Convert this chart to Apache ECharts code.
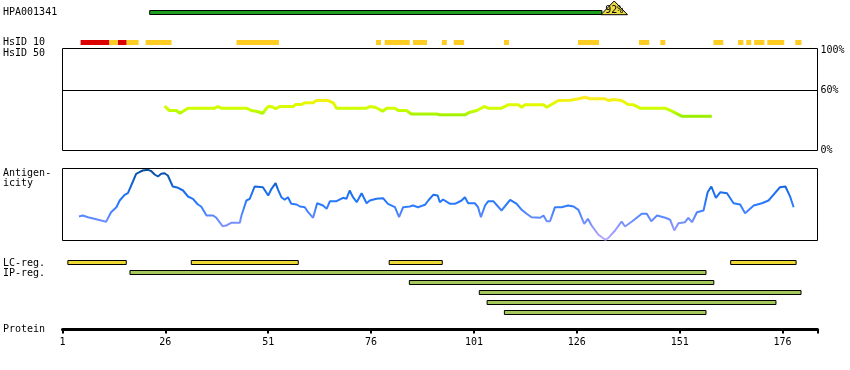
<!DOCTYPE html>
<html>
<head>
<meta charset="utf-8">
<script src="https://cdn.jsdelivr.net/npm/echarts@6/dist/echarts.min.js"></script>
<style>html,body{margin:0;padding:0;background:#fff}#c{width:850px;height:370px}</style>
</head>
<body>
<div id="c"></div>
<script>
// ---------- data (residue positions) ----------
const proteinEnd = 184.5;
const tickStep = 25;
const antibodyName = 'HPA001341';
const hpaRange = [22.2, 132.1];
const hpaScore = '92%';
const hsRed = [[5.4, 12.4], [14.4, 16.6]];
const hsYellow = [[12.4, 14.4], [16.6, 19.5], [21.2, 27.5], [43.3, 53.6], [77.2, 78.4], [79.3, 85.4],
  [86.2, 89.6], [93.2, 94.4], [96.1, 98.6], [108.3, 109.5], [126.3, 131.4], [141.1, 143.6],
  [146.3, 147.5], [159.2, 161.6], [165.2, 166.5], [167.2, 168.4], [169.1, 171.6], [172.3, 176.4], [179.1, 180.6]];
const identityPos = [25.8, 27.0, 28.7, 29.5, 30.3, 31.5, 38.0, 38.8, 39.6, 45.7, 46.9, 48.1, 48.5, 49.7, 50.6, 51.2,
  52.2, 52.8, 53.8, 57.0, 57.7, 59.1, 59.9, 61.9, 62.7, 65.5, 66.8, 67.6, 74.9, 75.7, 76.9, 78.1, 78.8, 79.8, 81.8,
  82.6, 84.6, 85.8, 91.9, 92.7, 98.8, 100.0, 101.7, 103.5, 104.5, 107.7, 109.3, 111.8, 112.6, 113.4, 117.9, 118.7,
  121.5, 124.4, 126.4, 128.0, 129.2, 132.9, 133.7, 134.9, 136.9, 138.5, 139.8, 141.4, 147.5, 149.1, 151.5, 158.8];
const identityPct = [44.3, 40, 40, 37.3, 39.3, 42.3, 42.3, 44, 42.3, 42.3, 40, 39.3, 37.3, 37.3, 42.3, 44.3,
  43.3, 41.7, 44, 44, 46, 46, 47.7, 47.7, 50, 50, 47.7, 42.3, 42.3, 44, 43.3, 41, 39.3, 42.3, 42.3,
  40, 40, 36.5, 36.5, 35.7, 35.7, 38.3, 40, 44, 42.3, 42.3, 45.7, 45.7, 43.3, 45.7, 45.7, 43.3,
  50, 50.3, 51.7, 53.3, 51.7, 51.7, 50, 51, 50, 46, 45.7, 42.3, 42.3, 39.3, 34.3, 34.3];
const antigenPos = [5.0, 5.9, 7.2, 9.2, 11.6, 12.8, 14.1, 14.9, 16.1, 16.9, 17.7, 18.9, 19.7, 20.5, 21.8, 22.6, 23.4,
  24.2, 25.0, 25.8, 26.6, 27.8, 29.1, 30.3, 31.5, 32.7, 33.9, 34.7, 36.0, 37.6, 38.4, 39.9, 40.8, 42.0, 44.1, 44.5,
  45.7, 46.5, 47.7, 49.7, 51.0, 51.8, 52.8, 53.4, 54.2, 55.0, 55.8, 56.6, 57.9, 58.7, 59.9, 60.7, 61.9, 62.9, 64.3,
  65.2, 66.0, 67.6, 69.2, 70.0, 70.8, 71.6, 72.5, 73.7, 74.9, 75.7, 77.3, 78.9, 80.1, 81.8, 82.8, 83.8, 85.4, 86.2,
  87.4, 89.1, 89.9, 91.1, 92.2, 92.7, 93.5, 95.2, 96.4, 98.0, 98.8, 99.6, 101.2, 102.0, 102.7, 103.7, 104.5, 105.7,
  107.7, 109.8, 111.4, 112.6, 113.8, 115.0, 117.1, 117.9, 118.7, 119.5, 120.7, 122.3, 123.9, 125.2, 126.4, 127.8,
  128.7, 129.6, 131.2, 132.9, 133.7, 135.3, 136.9, 137.7, 139.4, 141.8, 143.0, 144.1, 145.5, 147.5, 148.7, 149.7,
  150.7, 152.3, 153.1, 154.0, 155.2, 156.8, 157.8, 158.7, 159.8, 160.9, 162.5, 164.1, 165.7, 166.9, 169.0, 171.0,
  172.6, 175.4, 176.7, 177.9, 178.7];
const antigenVal = [24, 25, 23.3, 21.3, 18.7, 28.3, 33.3, 40, 45.7, 47.3, 55, 66.7, 68.3, 70, 70.7, 69.3, 66,
  64, 66.7, 67.3, 65, 54, 52.7, 50, 44, 41.7, 36, 34, 25, 25, 22.7, 14.3, 15, 17.7, 17.7, 25,
  40, 41.7, 54, 53.3, 45, 51.7, 57.3, 50.7, 43.3, 40.7, 43.3, 36.7, 36, 34, 33.3, 28.3, 22.7, 37.3, 35,
  31.7, 39.3, 39.3, 42.7, 41.7, 50, 43.3, 38.3, 47.3, 37.3, 40, 41.7, 42.3, 36.7, 33.3, 23.3, 33.3, 34, 35,
  33.3, 35.7, 40, 45.7, 45, 38.3, 41, 36.7, 36.7, 40, 43.3, 37.3, 37.3, 33.3, 23.3, 35, 39.3, 39.3,
  30, 40.7, 36.7, 30.7, 26.7, 23.3, 22.7, 25, 19.3, 19.3, 33.3, 33.3, 35, 34, 30.7, 16.7,
  21.7, 15, 6, 0.7, 2.7, 10, 19, 14, 19, 26.7, 26.7, 19.3, 25, 22.7, 20.7, 10,
  17.3, 18.3, 22.7, 18.3, 28.3, 30, 48.3, 54, 42.7, 48.3, 47.3, 37.3, 36, 27.3, 35, 37.3,
  40, 53.3, 54, 43.3, 33.3];
const lcRegions = [[2.3, 16.5], [32.3, 58.3], [80.4, 93.3], [163.4, 179.3]];
const ipRegions = [[17.4, 157.4], [85.3, 159.3], [102.3, 180.5], [104.2, 174.4], [108.4, 157.4]];
const regionRows = ['LC', 'IP1', 'IP2', 'IP3', 'IP4', 'IP5'];
const identityTicks = [0, 60, 100];
const identityRefLine = 60;

// ---------- build ----------
const sh = r => r - 1;               // axis value = residue - 1 so ticks land on 1, 26, 51 ...
const xMax = sh(proteinEnd);
const FONT = '"DejaVu Sans Mono", "Liberation Mono", monospace';
const L = 62.5, R = 32.5;

const grids = [
  {left: L, right: R, top: 10, height: 5},
  {left: L, right: R, top: 40, height: 5},
  {left: L, right: R, top: 48.5, height: 102, show: true, borderColor: '#000', borderWidth: 1},
  {left: L, right: R, top: 168.5, height: 72, show: true, borderColor: '#000', borderWidth: 1},
  {left: L, right: R, top: 260, height: 60},
  {left: L, right: R, top: 300, bottom: 40.5}
];
const xAxes = grids.map((g, i) => ({
  type: 'value', gridIndex: i, min: 0, max: xMax, show: i === 5,
  interval: tickStep,
  splitLine: {show: false},
  axisLine: {show: true, lineStyle: {color: '#000', width: 3}},
  axisTick: {show: true, length: 4, lineStyle: {color: '#000', width: 2}},
  axisLabel: {
    show: true, margin: 8, color: '#000', fontFamily: FONT, fontSize: 10,
    formatter: v => (Math.abs(v % tickStep) < 1e-6 ? String(Math.round(v) + 1) : '')
  }
}));
const yAxes = [
  {type: 'value', gridIndex: 0, min: 0, max: 1, show: false},
  {type: 'value', gridIndex: 1, min: 0, max: 1, show: false},
  {type: 'value', gridIndex: 2, min: 0, max: 102, interval: 20, position: 'right',
    axisLine: {show: false}, axisTick: {show: false}, splitLine: {show: false},
    axisLabel: {margin: 3, color: '#000', fontFamily: FONT, fontSize: 10,
      formatter: v => (identityTicks.indexOf(v) >= 0 ? v + '%' : '')}},
  {type: 'value', gridIndex: 3, min: 0, max: 72, show: false},
  {type: 'category', gridIndex: 4, data: regionRows, inverse: true, show: false},
  {type: 'value', gridIndex: 5, min: 0, max: 1, show: false}
];

function spanRenderer(fillFn, stroke) {
  return function (params, api) {
    const a = api.coord([api.value(0), 1]);
    const b = api.coord([api.value(1), 0]);
    const r = {x: a[0], y: a[1], width: b[0] - a[0], height: b[1] - a[1]};
    if (stroke) { r.y += 0.5; r.height -= 1; }
    return {type: 'rect', shape: r,
      style: {fill: fillFn(api), stroke: stroke ? '#000' : null, lineWidth: stroke ? 1 : 0}};
  };
}

const hsData = hsRed.map(s => [sh(s[0]), sh(s[1]), 0]).concat(hsYellow.map(s => [sh(s[0]), sh(s[1]), 1]));
const regionData = lcRegions.map(s => [sh(s[0]), sh(s[1]), 0, 0])
  .concat(ipRegions.map((s, i) => [sh(s[0]), sh(s[1]), i + 1, 1]));

const series = [
  { // 0 HPA antigen bar + score triangle
    type: 'custom', xAxisIndex: 0, yAxisIndex: 0, clip: false,
    data: [[sh(hpaRange[0]), sh(hpaRange[1])]],
    renderItem: function (params, api) {
      const a = api.coord([api.value(0), 1]);
      const b = api.coord([api.value(1), 0]);
      const ex = b[0], by = b[1] - 0.3;
      return {type: 'group', children: [
        {type: 'rect', shape: {x: a[0], y: a[1] + 0.5, width: b[0] - a[0], height: b[1] - a[1] - 1},
          style: {fill: '#1e9e1e', stroke: '#000', lineWidth: 1}},
        {type: 'polygon', shape: {points: [[ex - 1, by], [ex + 12.3, by - 13.7], [ex + 25.6, by]]},
          style: {fill: '#eedd44', stroke: '#000', lineWidth: 1}},
        {type: 'text', x: ex + 12.3, y: by - 4.3,
          style: {text: hpaScore, font: '10px ' + FONT, fill: '#000', align: 'center', verticalAlign: 'middle'}}
      ]};
    }
  },
  { // 1 HsID 10
    type: 'custom', xAxisIndex: 1, yAxisIndex: 1,
    data: hsData,
    renderItem: spanRenderer(api => (api.value(2) === 0 ? '#dd0000' : '#ffcc22'), false)
  },
  { // 2 identity line
    type: 'line', xAxisIndex: 2, yAxisIndex: 2, showSymbol: false, symbol: 'none', animation: false,
    data: identityPos.map((p, i) => [sh(p), identityPct[i]]),
    lineStyle: {width: 3}
  },
  { // 3 reference line 60%
    type: 'line', xAxisIndex: 2, yAxisIndex: 2, showSymbol: false, symbol: 'none',
    data: [[0, identityRefLine], [xMax, identityRefLine]],
    lineStyle: {color: '#000', width: 1}, itemStyle: {color: '#000'}, silent: true
  },
  { // 4 antigenicity
    type: 'line', xAxisIndex: 3, yAxisIndex: 3, showSymbol: false, symbol: 'none',
    data: antigenPos.map((p, i) => [sh(p), antigenVal[i]]),
    lineStyle: {width: 2}
  },
  { // 5 LC / IP regions
    type: 'custom', xAxisIndex: 4, yAxisIndex: 4,
    data: regionData,
    renderItem: function (params, api) {
      const a = api.coord([api.value(0), api.value(2)]);
      const b = api.coord([api.value(1), api.value(2)]);
      const h = api.size([0, 1])[1];
      return {type: 'rect',
        shape: {x: a[0], y: a[1] - h / 2 + 0.5, width: b[0] - a[0], height: h / 2 - 1},
        style: {fill: api.value(3) === 0 ? '#eed836' : '#a4c85c', stroke: '#000', lineWidth: 1}};
    }
  },
  { // 6 protein axis carrier
    type: 'line', xAxisIndex: 5, yAxisIndex: 5, data: [], showSymbol: false
  }
];

const labels = [
  ['HPA001341', 12.5], ['HsID 10', 42.5], ['HsID 50', 53], ['Antigen-', 173], ['icity', 183.5],
  ['LC-reg.', 263], ['IP-reg.', 273], ['Protein', 329.5]
];
const graphic = labels.map(l => ({
  type: 'text', x: 3, y: l[1], silent: true,
  style: {text: l[0], font: '10px ' + FONT, fill: '#000', verticalAlign: 'middle'}
}));

const chart = echarts.init(document.getElementById('c'), null, {renderer: 'canvas'});
chart.setOption({
  animation: false,
  backgroundColor: '#fff',
  grid: grids, xAxis: xAxes, yAxis: yAxes, series: series, graphic: graphic,
  visualMap: [
    {type: 'continuous', show: false, seriesIndex: 2, dimension: 1, min: 34, max: 54,
      inRange: {color: ['#99ee00', '#c8ff00', '#e8f800', '#ffe830']}},
    {type: 'continuous', show: false, seriesIndex: 4, dimension: 1, min: 0, max: 72,
      inRange: {color: ['#bbaaff', '#8f96ff', '#5a88ff', '#2a7aff', '#1a6ef0', '#0d5ec8', '#0a4a90']}}
  ]
});
</script>
</body>
</html>
